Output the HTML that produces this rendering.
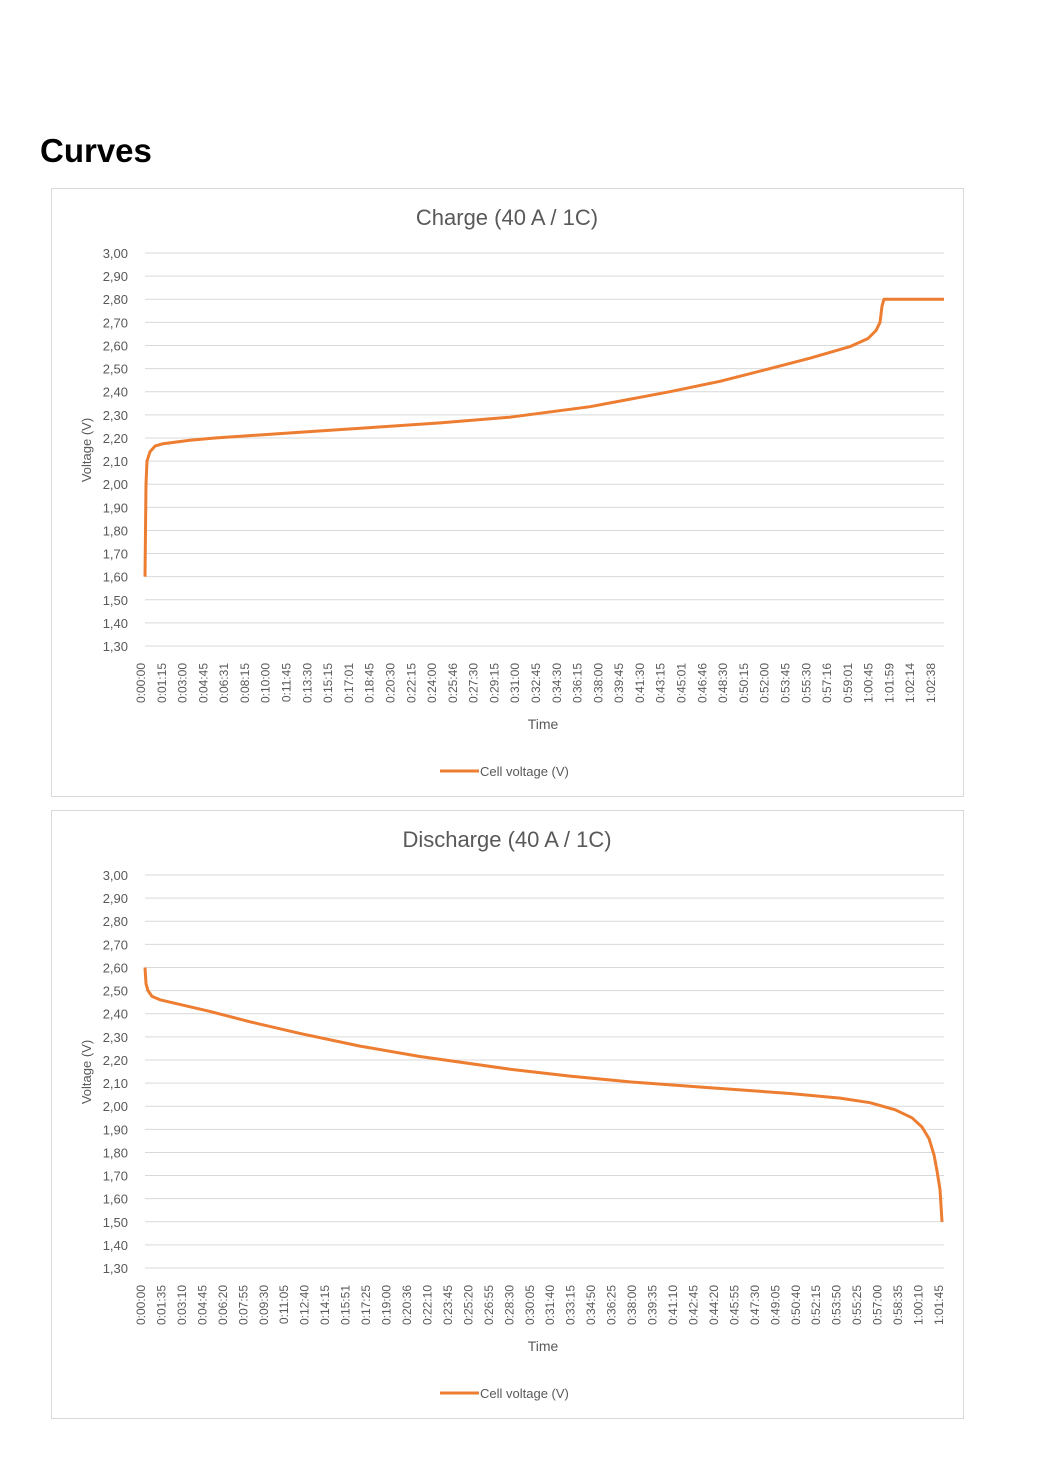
<!DOCTYPE html>
<html><head><meta charset="utf-8"><style>
body{margin:0;background:#fff;width:1037px;height:1476px;overflow:hidden;font-family:"Liberation Sans",sans-serif}
</style></head><body>
<svg id="s" width="1037" height="1476" xmlns="http://www.w3.org/2000/svg" style="position:absolute;left:0;top:0">
<text x="40" y="162" font-family="Liberation Sans,sans-serif" font-weight="bold" font-size="33" fill="#000">Curves</text>
</svg>
<script>
const s=document.getElementById('s');const NS='http://www.w3.org/2000/svg';
function el(t,a,txt){const e=document.createElementNS(NS,t);for(const k in a)e.setAttribute(k,a[k]);if(txt!=null)e.textContent=txt;s.appendChild(e);return e;}
function chart(top,title,labels,lx0,lx1,pts){
 el('rect',{x:51.5,y:top+0.5,width:912,height:608,fill:'#fff',stroke:'#d9d9d9'});
 el('text',{x:507,y:top+37,'text-anchor':'middle','font-size':22,fill:'#595959','font-family':'Liberation Sans,sans-serif'},title);
 const y0=top+65;const st=23.12;
 for(let i=0;i<=17;i++){const y=y0+i*st;
  el('line',{x1:145,x2:944,y1:y,y2:y,stroke:'#d9d9d9','stroke-width':1});
  const v=(3-i*0.1).toFixed(2).replace('.',',');
  el('text',{x:128,y:y+5,'text-anchor':'end','font-size':13,fill:'#595959'},v);}
 el('text',{transform:`translate(91,${y0+197}) rotate(-90)`,'text-anchor':'middle','font-size':13,fill:'#595959'},'Voltage (V)');
 const n=labels.length;
 labels.forEach((l,i)=>{const x=lx0+(lx1-lx0)*i/(n-1);
  el('text',{transform:`translate(${x+4},${y0+410}) rotate(-90)`,'text-anchor':'end','font-size':12,fill:'#595959'},l);});
 el('text',{x:543,y:y0+476,'text-anchor':'middle','font-size':14,fill:'#595959'},'Time');
 el('line',{x1:440,x2:479,y1:y0+518,y2:y0+518,stroke:'#ed7d31','stroke-width':3});
 el('text',{x:480,y:y0+523,'font-size':13,fill:'#595959'},'Cell voltage (V)');
 const d=pts.map((p,i)=>(i?'L':'M')+p[0]+' '+(y0+(3-p[1])*231.2).toFixed(1)).join(' ');
 el('path',{d:d,fill:'none',stroke:'#ed7d31','stroke-width':3,'stroke-linejoin':'round'});
}
const cl="0:00:00 0:01:15 0:03:00 0:04:45 0:06:31 0:08:15 0:10:00 0:11:45 0:13:30 0:15:15 0:17:01 0:18:45 0:20:30 0:22:15 0:24:00 0:25:46 0:27:30 0:29:15 0:31:00 0:32:45 0:34:30 0:36:15 0:38:00 0:39:45 0:41:30 0:43:15 0:45:01 0:46:46 0:48:30 0:50:15 0:52:00 0:53:45 0:55:30 0:57:16 0:59:01 1:00:45 1:01:59 1:02:14 1:02:38".split(' ');
const dl="0:00:00 0:01:35 0:03:10 0:04:45 0:06:20 0:07:55 0:09:30 0:11:05 0:12:40 0:14:15 0:15:51 0:17:25 0:19:00 0:20:36 0:22:10 0:23:45 0:25:20 0:26:55 0:28:30 0:30:05 0:31:40 0:33:15 0:34:50 0:36:25 0:38:00 0:39:35 0:41:10 0:42:45 0:44:20 0:45:55 0:47:30 0:49:05 0:50:40 0:52:15 0:53:50 0:55:25 0:57:00 0:58:35 1:00:10 1:01:45".split(' ');
chart(188,'Charge (40 A / 1C)',cl,141,931,[[145,1.6],[146,2.0],[147,2.1],[150,2.14],[155,2.165],[163,2.175],[190,2.19],[215,2.2],[300,2.225],[370,2.245],[440,2.265],[510,2.29],[590,2.335],[670,2.4],[720,2.445],[770,2.5],[810,2.545],[850,2.595],[868,2.63],[876,2.665],[880,2.7],[882,2.77],[884,2.8],[944,2.8]]);
chart(810,'Discharge (40 A / 1C)',dl,141,939,[[145,2.6],[146,2.53],[148,2.5],[152,2.475],[160,2.46],[210,2.41],[250,2.365],[300,2.315],[360,2.26],[420,2.215],[510,2.16],[570,2.13],[630,2.105],[710,2.08],[790,2.055],[840,2.035],[870,2.015],[895,1.985],[912,1.95],[922,1.91],[929,1.86],[934,1.79],[937,1.72],[940,1.64],[942,1.5]]);
</script>
</body></html>
